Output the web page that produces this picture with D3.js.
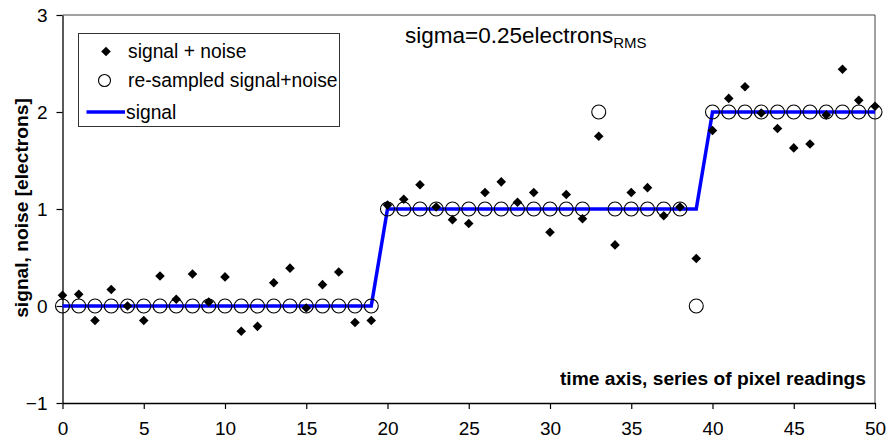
<!DOCTYPE html>
<html>
<head>
<meta charset="utf-8">
<script src="https://cdn.jsdelivr.net/npm/d3@7"></script>
<style>
  body { margin: 0; background: #fff; }
  svg { display: block; font-family: "Liberation Sans", Arial, sans-serif; }
</style>
</head>
<body>
<script>
// pixel index along the time axis
const pixel = [0, 1, 2, 3, 4, 5, 6, 7, 8, 9, 10, 11, 12, 13, 14, 15, 16, 17, 18, 19,
  20, 21, 22, 23, 24, 25, 26, 27, 28, 29, 30, 31, 32, 33, 34, 35, 36, 37, 38, 39,
  40, 41, 42, 43, 44, 45, 46, 47, 48, 49, 50];

// signal + noise (diamonds)
const noisy = [0.11, 0.12, -0.15, 0.17, 0.0, -0.15, 0.31, 0.07, 0.33, 0.04,
  0.30, -0.26, -0.21, 0.24, 0.39, -0.02, 0.22, 0.35, -0.17, -0.15,
  1.04, 1.10, 1.25, 1.02, 0.89, 0.85, 1.17, 1.28, 1.07, 1.17,
  0.76, 1.15, 0.90, 1.75, 0.63, 1.17, 1.22, 0.93, 1.02, 0.49,
  1.81, 2.14, 2.26, 1.99, 1.83, 1.63, 1.67, 1.97, 2.44, 2.12, 2.06];

// re-sampled signal+noise (open circles)
const resampled = [0, 0, 0, 0, 0, 0, 0, 0, 0, 0, 0, 0, 0, 0, 0, 0, 0, 0, 0, 0,
  1, 1, 1, 1, 1, 1, 1, 1, 1, 1, 1, 1, 1, 2, 1, 1, 1, 1, 1, 0,
  2, 2, 2, 2, 2, 2, 2, 2, 2, 2, 2];

// true signal (blue line)
const signal = [0, 0, 0, 0, 0, 0, 0, 0, 0, 0, 0, 0, 0, 0, 0, 0, 0, 0, 0, 0,
  1, 1, 1, 1, 1, 1, 1, 1, 1, 1, 1, 1, 1, 1, 1, 1, 1, 1, 1, 1,
  2, 2, 2, 2, 2, 2, 2, 2, 2, 2, 2];

const xTicks = [0, 5, 10, 15, 20, 25, 30, 35, 40, 45, 50];
const yTicks = [-1, 0, 1, 2, 3];

const legendLabels = ["signal + noise", "re-sampled signal+noise", "signal"];

// layout
const w = 889;
const h = 448;
const plotLeft = 62.5, plotRight = 875, plotTop = 15, plotBottom = 403;

const svg = d3.select("body").append("svg")
  .attr("width", w)
  .attr("height", h);

const x = d3.scaleLinear().domain([0, 50]).range([plotLeft, plotRight]);
const y = d3.scaleLinear().domain([-1, 3]).range([plotBottom, plotTop]);

// plot frame (top + right)
svg.append("path")
  .attr("d", `M${plotLeft},${plotTop}H${plotRight}V${plotBottom}`)
  .attr("fill", "none")
  .attr("stroke", "#444")
  .attr("stroke-width", 1);

// axes
const xAxis = d3.axisBottom(x).tickValues(xTicks).tickSize(6).tickPadding(13).tickSizeOuter(0);
const gx = svg.append("g")
  .attr("transform", `translate(0,${plotBottom})`)
  .call(xAxis);

const yAxis = d3.axisLeft(y)
  .tickValues(yTicks)
  .tickFormat(d3.format("d"))
  .tickSize(6)
  .tickPadding(9)
  .tickSizeOuter(0);
const gy = svg.append("g")
  .attr("transform", `translate(${plotLeft},0)`)
  .call(yAxis);

[gx, gy].forEach((g) => {
  g.select(".domain").attr("stroke", "#000").attr("stroke-width", 1.3);
  g.selectAll(".tick line").attr("stroke", "#000").attr("stroke-width", 1.2);
  g.selectAll(".tick text")
    .attr("fill", "#000")
    .style("font-family", "'Liberation Sans', Arial, sans-serif")
    .style("font-size", "19px");
});
gx.selectAll(".tick text").attr("dy", "0.71em");

// signal line
const line = d3.line()
  .x((d, i) => x(pixel[i]))
  .y((d) => y(d));

svg.append("path")
  .datum(signal)
  .attr("d", line)
  .attr("fill", "none")
  .attr("stroke", "#0000ff")
  .attr("stroke-width", 3.5)
  .attr("stroke-linejoin", "miter");

// re-sampled circles
svg.append("g")
  .selectAll("circle")
  .data(resampled)
  .enter()
  .append("circle")
  .attr("cx", (d, i) => x(pixel[i]))
  .attr("cy", (d) => y(d))
  .attr("r", 7)
  .attr("fill", "none")
  .attr("stroke", "#000")
  .attr("stroke-width", 1.1);

// diamonds
const diamond = d3.symbol().type(d3.symbolSquare).size(46);
svg.append("g")
  .selectAll("path")
  .data(noisy)
  .enter()
  .append("path")
  .attr("d", diamond)
  .attr("transform", (d, i) => `translate(${x(pixel[i])},${y(d)}) rotate(45)`)
  .attr("fill", "#000");

// legend
const legend = svg.append("g");
legend.append("rect")
  .attr("x", 78.5)
  .attr("y", 33.5)
  .attr("width", 261)
  .attr("height", 93)
  .attr("fill", "#fff")
  .attr("stroke", "#333")
  .attr("stroke-width", 1);

const rowY = [51.5, 80.5, 112];
legend.append("path")
  .attr("d", diamond)
  .attr("transform", `translate(106,${rowY[0]}) rotate(45)`)
  .attr("fill", "#000");
legend.append("circle")
  .attr("cx", 104.5)
  .attr("cy", rowY[1])
  .attr("r", 6)
  .attr("fill", "none")
  .attr("stroke", "#000")
  .attr("stroke-width", 1.1);
legend.append("line")
  .attr("x1", 86.5)
  .attr("x2", 125)
  .attr("y1", rowY[2])
  .attr("y2", rowY[2])
  .attr("stroke", "#0000ff")
  .attr("stroke-width", 3.5);

legend.selectAll("text")
  .data(legendLabels)
  .enter()
  .append("text")
  .attr("x", (d, i) => (i === 2 ? 126 : 128))
  .attr("y", (d, i) => rowY[i])
  .attr("dy", "0.34em")
  .style("font-size", "19.3px")
  .attr("fill", "#000")
  .text((d) => d);

// title with subscript
const title = svg.append("text")
  .attr("x", 405)
  .attr("y", 43)
  .style("font-size", "22.5px")
  .attr("fill", "#000");
title.append("tspan").text("sigma=0.25electrons");
title.append("tspan")
  .attr("dy", 5)
  .style("font-size", "15px")
  .text("RMS");

// axis titles
svg.append("text")
  .attr("x", 866)
  .attr("y", 385)
  .attr("text-anchor", "end")
  .style("font-size", "19.2px")
  .style("font-weight", "bold")
  .attr("fill", "#000")
  .text("time axis, series of pixel readings");

svg.append("text")
  .attr("transform", "translate(28,208) rotate(-90)")
  .attr("text-anchor", "middle")
  .style("font-size", "19.2px")
  .style("font-weight", "bold")
  .attr("fill", "#000")
  .text("signal, noise [electrons]");
</script>
</body>
</html>
